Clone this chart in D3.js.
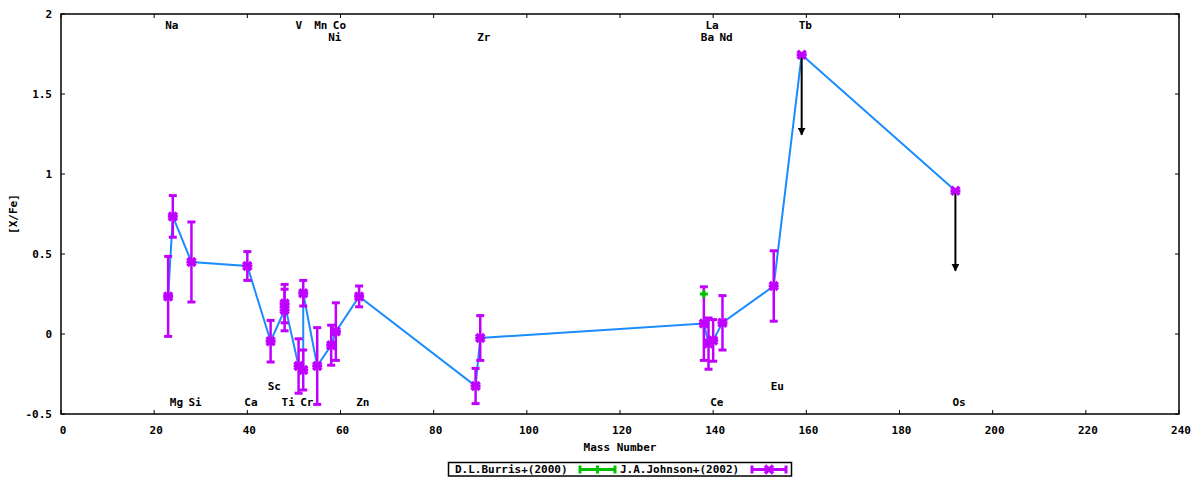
<!DOCTYPE html>
<html><head><meta charset="utf-8">
<script src="https://cdn.jsdelivr.net/npm/d3@7"></script>
<style>
body{margin:0;background:#fff;}
svg text{font-family:"DejaVu Sans Mono",monospace;font-weight:bold;font-size:11px;fill:#000;}
</style></head>
<body>
<svg id="c" width="1200" height="480"></svg>
<script>
// J.A.Johnson+(2002)
const elements = ["Na","Mg","Si","Ca","Sc","Ti","Ti","V","Cr","Cr","Mn","Ni","Co","Zn","Y","Zr","Ba","La","Ce","Nd","Eu","Tb","Os"];
const mass     = [23,24,28,40,45,48,48,51,52,52,55,58,59,64,89,90,138,139,140,142,153,159,192];
const xfe      = [0.235,0.735,0.45,0.425,-0.045,0.15,0.19,-0.20,-0.225,0.255,-0.20,-0.07,0.015,0.235,-0.325,-0.025,0.065,-0.06,-0.04,0.07,0.30,1.745,0.895];
const xfeErr   = [0.25,0.13,0.25,0.09,0.13,0.13,0.12,0.17,0.125,0.08,0.24,0.125,0.18,0.065,0.11,0.14,0.23,0.16,0.13,0.17,0.22,0,0];
// upper limits (arrows)
const limitMass = [159,192];
const limitFrom = [1.745,0.895];
const limitTo   = [1.245,0.395];
// D.L.Burris+(2000)
const burrisMass = [138];
const burrisXfe  = [0.25];
const burrisErr  = [0];
// element labels
const labelText = ["Na","Mg","Si","Ca","Sc","Ti","V","Cr","Mn","Co","Ni","Zn","Zr","Ba","La","Ce","Nd","Eu","Tb","Os"];
const labelMass = [23,24,28,40,45,48,51,52,55,59,58,64,90,138,139,140,142,153,159,192];
const labelY    = [1.927,-0.429,-0.429,-0.429,-0.329,-0.429,1.927,-0.429,1.927,1.927,1.852,-0.429,1.852,1.852,1.927,-0.429,1.852,-0.329,1.927,-0.429];
// ticks
const xTicks = [0,20,40,60,80,100,120,140,160,180,200,220,240];
const yTicks = [-0.5,0,0.5,1,1.5,2];
const yTickLabels = ["-0.5","0","0.5","1","1.5","2"];

const svg = d3.select("#c");
const L=61, R=1179, T=14, B=414;
const x = d3.scaleLinear().domain([0,240]).range([L,R]);
const y = d3.scaleLinear().domain([-0.5,2]).range([B,T]);
const purple="#c000ff", green="#00c000", blue="#1a8cff";

// ticks
const tk = svg.append("g").attr("stroke","#000").attr("stroke-width",1);
xTicks.forEach(v=>{
  tk.append("line").attr("x1",x(v)).attr("x2",x(v)).attr("y1",B).attr("y2",B-4);
  tk.append("line").attr("x1",x(v)).attr("x2",x(v)).attr("y1",T).attr("y2",T+4);
});
yTicks.forEach(v=>{
  tk.append("line").attr("x1",L).attr("x2",L+4).attr("y1",y(v)).attr("y2",y(v));
  tk.append("line").attr("x1",R).attr("x2",R-4).attr("y1",y(v)).attr("y2",y(v));
});
svg.append("g").selectAll("text").data(xTicks).join("text")
  .attr("x",d=>x(d)+2).attr("y",B+16).attr("text-anchor","middle").attr("dominant-baseline","central").text(d=>d);
svg.append("g").selectAll("text").data(yTicks).join("text")
  .attr("x",L-9).attr("y",d=>y(d)).attr("text-anchor","end").attr("dominant-baseline","central").text((d,i)=>yTickLabels[i]);

// frame
svg.append("rect").attr("x",L).attr("y",T).attr("width",R-L).attr("height",B-T)
  .attr("fill","none").attr("stroke","#000").attr("stroke-width",1.5);

// axis titles
svg.append("text").attr("x",620).attr("y",447).attr("text-anchor","middle").attr("dominant-baseline","central").text("Mass Number");
svg.append("text").attr("transform","translate(13,214) rotate(-90)").attr("text-anchor","middle").attr("dominant-baseline","central").text("[X/Fe]");

// element labels
svg.append("g").selectAll("text").data(labelText).join("text")
  .attr("x",(d,i)=>x(labelMass[i])-3).attr("y",(d,i)=>y(labelY[i]))
  .attr("dominant-baseline","central").text(d=>d);

// connecting line
const pts = mass.map((m,i)=>[m,xfe[i]]);
svg.append("path").datum(pts)
  .attr("d",d3.line().x(d=>x(d[0])).y(d=>y(d[1])))
  .attr("fill","none").attr("stroke",blue).attr("stroke-width",2);

// arrows (upper limits)
const defs = svg.append("defs");
defs.append("marker").attr("id","ah").attr("viewBox","0 0 10 10").attr("refX",9).attr("refY",5)
  .attr("markerWidth",4).attr("markerHeight",4).attr("orient","auto")
  .append("path").attr("d","M0,0 L10,5 L0,10 z").attr("fill","#000");
limitMass.forEach((m,i)=>{
  svg.append("line").attr("x1",x(m)).attr("x2",x(m)).attr("y1",y(limitFrom[i])).attr("y2",y(limitTo[i]))
    .attr("stroke","#000").attr("stroke-width",2).attr("marker-end","url(#ah)");
});

// error bars helper
function errbars(g, ms, vs, es, col){
  ms.forEach((m,i)=>{
    const cx=x(m), y1=y(vs[i]+es[i]), y2=y(vs[i]-es[i]);
    if(es[i]>0){
      g.append("line").attr("x1",cx).attr("x2",cx).attr("y1",y1).attr("y2",y2).attr("stroke",col).attr("stroke-width",2.5);
      [y1,y2].forEach(yy=>g.append("line").attr("x1",cx-4).attr("x2",cx+4).attr("y1",yy).attr("y2",yy).attr("stroke",col).attr("stroke-width",3));
    }
  });
}
const gj = svg.append("g");
errbars(gj, mass, xfe, xfeErr, purple);
mass.forEach((m,i)=>{
  const cx=x(m), cy=y(xfe[i]);
  gj.append("path").attr("d",`M${cx-4},${cy-4}L${cx+4},${cy+4}M${cx-4},${cy+4}L${cx+4},${cy-4}`)
    .attr("stroke",purple).attr("stroke-width",3.5).attr("fill","none");
  gj.append("line").attr("x1",cx-5).attr("x2",cx+5).attr("y1",cy).attr("y2",cy).attr("stroke",purple).attr("stroke-width",3);
});
const gb = svg.append("g");
errbars(gb, burrisMass, burrisXfe, burrisErr, green);
burrisMass.forEach((m,i)=>{
  const cx=x(m), cy=y(burrisXfe[i]);
  gb.append("line").attr("x1",cx-4).attr("x2",cx+4).attr("y1",cy).attr("y2",cy).attr("stroke",green).attr("stroke-width",3);
  gb.append("line").attr("x1",cx).attr("x2",cx).attr("y1",cy-4).attr("y2",cy+4).attr("stroke",green).attr("stroke-width",3);
});

// legend
const lg = svg.append("g");
lg.append("rect").attr("x",448.5).attr("y",462.5).attr("width",343).attr("height",13.5)
  .attr("fill","#fff").attr("stroke","#000").attr("stroke-width",1.5);
lg.append("text").attr("x",455).attr("y",469.5).attr("dominant-baseline","central").text("D.L.Burris+(2000)");
lg.append("text").attr("x",620).attr("y",469.5).attr("dominant-baseline","central").text("J.A.Johnson+(2002)");
function sample(x0,x1,col,isX){
  const cy=469.5, cx=(x0+x1)/2;
  lg.append("line").attr("x1",x0).attr("x2",x1).attr("y1",cy).attr("y2",cy).attr("stroke",col).attr("stroke-width",3);
  [x0,x1].forEach(xx=>lg.append("line").attr("x1",xx).attr("x2",xx).attr("y1",cy-4).attr("y2",cy+4).attr("stroke",col).attr("stroke-width",3));
  if(isX){
    lg.append("path").attr("d",`M${cx-4},${cy-4}L${cx+4},${cy+4}M${cx-4},${cy+4}L${cx+4},${cy-4}`).attr("stroke",col).attr("stroke-width",3.5);
  } else {
    lg.append("line").attr("x1",cx).attr("x2",cx).attr("y1",cy-4).attr("y2",cy+4).attr("stroke",col).attr("stroke-width",3);
  }
}
sample(580,615,green,false);
sample(752,786,purple,true);
</script>
</body></html>
